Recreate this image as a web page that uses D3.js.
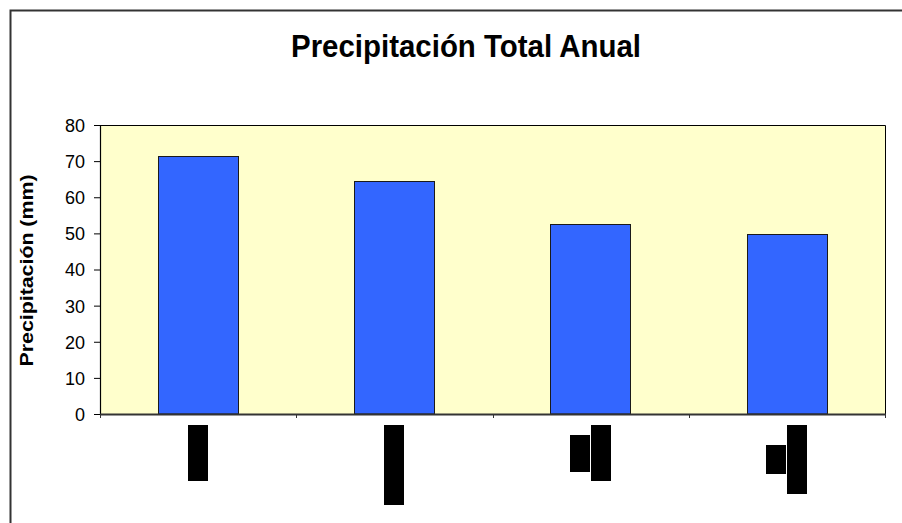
<!DOCTYPE html>
<html>
<head>
<meta charset="utf-8">
<script src="https://cdn.jsdelivr.net/npm/d3@7"></script>
<style>
  html, body { margin: 0; padding: 0; background: #fff; }
  svg { display: block; }
  text { font-family: "Liberation Sans", Arial, sans-serif; fill: #000; }
</style>
</head>
<body>
<svg id="chart" width="902" height="523"></svg>
<script>
// Annual precipitation per station
const categories = ["1", "2", "3", "4"];
const precipitation = [71.3, 64.4, 52.5, 49.8];
const yTicks = [0, 10, 20, 30, 40, 50, 60, 70, 80];
const titleText = "Precipitación Total Anual";
const yAxisTitle = "Precipitación (mm)";

// Category labels come out as solid glyph blocks, one block per text line
// (line lengths in px, first entry is the main line).
const labelLines = [[56], [80], [56, 37], [69, 29]];

const svg = d3.select("#chart");
const W = 902, H = 523;
const plot = { left: 100, right: 885, top: 125, bottom: 414 };

// outer frame (extends past the right and bottom edges)
svg.append("rect")
  .attr("x", 10.5).attr("y", 10.5)
  .attr("width", W + 20).attr("height", H + 20)
  .attr("fill", "#fff").attr("stroke", "#333").attr("stroke-width", 2);

const x = d3.scaleBand()
  .domain(categories)
  .range([plot.left, plot.right])
  .paddingInner(0.59)
  .paddingOuter(0.295);

const y = d3.scaleLinear()
  .domain([0, 80])
  .range([plot.bottom, plot.top]);

// plot background
svg.append("rect")
  .attr("x", plot.left).attr("y", plot.top)
  .attr("width", plot.right - plot.left).attr("height", plot.bottom - plot.top)
  .attr("fill", "#FFFFCC");

// plot border (top/right)
svg.append("path")
  .attr("d", `M${plot.left},${plot.top + 0.5}H${plot.right + 0.5}V${plot.bottom}`)
  .attr("fill", "none").attr("stroke", "#000").attr("stroke-width", 1);

// bars
svg.append("g").selectAll("rect")
  .data(precipitation)
  .join("rect")
  .attr("x", (d, i) => Math.round(x(categories[i])) + 0.5)
  .attr("y", d => Math.round(y(d)) + 0.5)
  .attr("width", Math.round(x.bandwidth()))
  .attr("height", d => y(0) - Math.round(y(d)) - 0.5)
  .attr("fill", "#3366FF")
  .attr("stroke", "#1a1a1a")
  .attr("stroke-width", 1);

// y axis
const yAxis = svg.append("g")
  .attr("transform", `translate(${plot.left},0)`)
  .call(d3.axisLeft(y).tickValues(yTicks).tickSize(6).tickPadding(9).tickSizeOuter(0));
yAxis.select(".domain").attr("stroke", "#000").attr("stroke-width", 1.2);
yAxis.selectAll(".tick line").attr("stroke", "#000");
yAxis.selectAll(".tick text")
  .attr("font-family", "Liberation Sans, Arial, sans-serif")
  .attr("font-size", 18)
  .attr("dy", "0.36em")
  .attr("fill", "#000");

// x axis with ticks at category boundaries
const xAxisG = svg.append("g").attr("transform", `translate(0,${plot.bottom})`);
xAxisG.append("line")
  .attr("x1", plot.left).attr("x2", plot.right + 1)
  .attr("y1", 0.5).attr("y2", 0.5)
  .attr("stroke", "#333").attr("stroke-width", 2);
const boundaries = d3.range(categories.length + 1).map(i => plot.left + i * (plot.right - plot.left) / categories.length);
xAxisG.selectAll("line.tick")
  .data(boundaries)
  .join("line")
  .attr("class", "tick")
  .attr("x1", d => Math.round(d) + 0.5).attr("x2", d => Math.round(d) + 0.5)
  .attr("y1", 0).attr("y2", 4)
  .attr("stroke", "#333").attr("stroke-width", 1);

// category label blocks, centred under each bar
const blockW = 20, blockTop = 425;
categories.forEach((c, i) => {
  const cx = x(c) + x.bandwidth() / 2;
  const lines = labelLines[i];
  const mid = blockTop + lines[0] / 2;
  const total = lines.length * blockW + (lines.length - 1);
  lines.forEach((len, j) => {
    const left = cx + total / 2 - (j + 1) * blockW - j;
    svg.append("rect")
      .attr("x", Math.round(left))
      .attr("y", Math.round(mid - len / 2))
      .attr("width", blockW)
      .attr("height", len)
      .attr("fill", "#000");
  });
});

// title
svg.append("text")
  .attr("x", 466).attr("y", 57)
  .attr("text-anchor", "middle")
  .attr("font-size", 31)
  .attr("font-weight", "bold")
  .attr("textLength", 350)
  .attr("lengthAdjust", "spacingAndGlyphs")
  .text(titleText);

// y axis title
svg.append("text")
  .attr("transform", `translate(33,${(plot.top + plot.bottom) / 2 + 1}) rotate(-90)`)
  .attr("text-anchor", "middle")
  .attr("font-size", 19)
  .attr("font-weight", "bold")
  .attr("textLength", 192)
  .attr("lengthAdjust", "spacingAndGlyphs")
  .text(yAxisTitle);
</script>
</body>
</html>
